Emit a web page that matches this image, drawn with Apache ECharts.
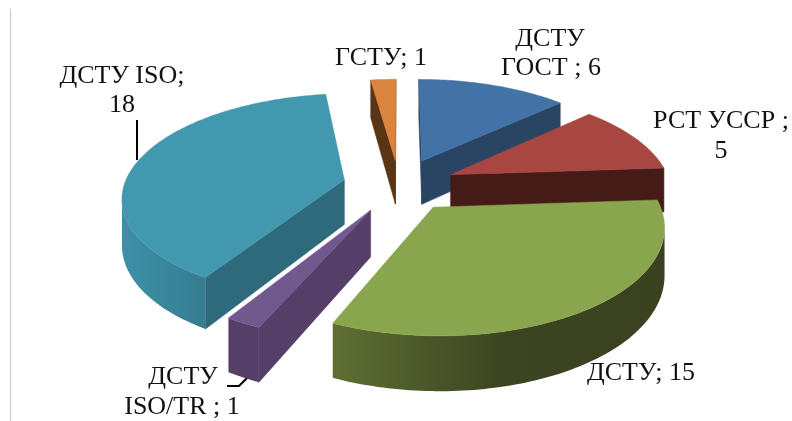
<!DOCTYPE html>
<html>
<head>
<meta charset="utf-8">
<style>
html, body { margin: 0; padding: 0; background: #fff; }
#main { width: 792px; height: 421px; }
</style>
<script src="https://cdn.jsdelivr.net/npm/echarts@6/dist/echarts.min.js"></script>
</head>
<body>
<div id="main"></div>
<script>
// clockwise from 12 o'clock
const categories = ["ДСТУ ГОСТ", "РСТ УССР", "ДСТУ", "ДСТУ ISO/TR", "ДСТУ ISO", "ГСТУ"]
const values = [6, 5, 15, 1, 18, 1]

// how far each slice is pulled out, in pie radii
const explodes = [0.27, 0.26, 0.26, 0.27, 0.256, 0.25]

// top face, radial wall, arc wall from its right end to its left end
const colors = [
	["#4372a6", "#2a4464", ["#2a4464", "#2a4464", "#2a4464"]],
	["#a84642", "#451b17", ["#451b17", "#451b17", "#451b17"]],
	["#89a54e", "#39411f", ["#39411f", "#3c4521", "#5f6f34"]],
	["#71588f", "#553f69", ["#553f69", "#553f69", "#553f69"]],
	["#4198af", "#2e6a7c", ["#347c90", "#39879c", "#3f8fa8"]],
	["#db843d", "#5a3515", ["#5a3515", "#5a3515", "#5a3515"]]
]

// label text and centre of each line
const labels = [
	[["ДСТУ", 550, 39], ["ГОСТ ; 6", 551, 68]],
	[["РСТ УССР ;", 721, 121], ["5", 721, 151]],
	[["ДСТУ; 15", 641, 373]],
	[["ДСТУ", 183, 377], ["ISO/TR ; 1", 182, 407]],
	[["ДСТУ ISO;", 122, 76], ["18", 122, 105]],
	[["ГСТУ; 1", 381, 58]]
]

const view = { cx: 399, cy: 185, rx: 220, ry: 101, persp: 0.155, depth: 45 }
const total = values.reduce((a, b) => a + b, 0)

const project = (u, v) => {
	const s = 1 / (1 + view.persp * v)
	return [view.cx + view.rx * u * s, view.cy - view.ry * v * s, s]
}
const flat = (p) => p.slice(0, 2)
const lower = (p) => [p[0], p[1] + view.depth * p[2]]

const quad = (a, b, fill, z2) => ({
	type: "polygon",
	z2,
	shape: { points: [flat(a), flat(b), lower(b), lower(a)] },
	style: { fill, stroke: fill, lineWidth: 0.6 }
})

const renderSlice = (params, api) => {
	const i = params.dataIndex
	const before = values.slice(0, i).reduce((a, b) => a + b, 0)
	const a0 = (before / total) * Math.PI * 2
	const a1 = ((before + api.value(0)) / total) * Math.PI * 2
	const mid = (a0 + a1) / 2
	const ou = explodes[i] * Math.sin(mid)
	const ov = explodes[i] * Math.cos(mid)
	const pal = colors[i]
	// back slices go first
	const zBase = Math.round((1 - Math.cos(mid)) * 100)

	const apex = project(ou, ov)
	const steps = Math.max(4, Math.ceil((a1 - a0) / 0.02))
	const rim = []
	for (let k = 0; k <= steps; k++) {
		const t = a0 + ((a1 - a0) * k) / steps
		rim.push(project(ou + Math.sin(t), ov + Math.cos(t)))
	}

	const children = []
	// a wall shows only where the clockwise outline runs to the left
	if (rim[0][0] < apex[0]) children.push(quad(apex, rim[0], pal[1], zBase))
	if (apex[0] < rim[steps][0]) children.push(quad(rim[steps], apex, pal[1], zBase))
	const front = rim.filter((p, k) => (k < steps && rim[k + 1][0] < p[0]) || (k > 0 && p[0] < rim[k - 1][0]))
	if (front.length > 1) {
		const xr = front[0][0]
		const xl = front[front.length - 1][0]
		children.push({
			type: "polygon",
			z2: zBase + 1,
			shape: { points: front.map(flat).concat(front.map(lower).reverse()) },
			style: {
				fill: new echarts.graphic.LinearGradient(xr, 0, xl, 0, [
					{ offset: 0, color: pal[2][0] },
					{ offset: 0.5, color: pal[2][1] },
					{ offset: 1, color: pal[2][2] }
				], true)
			}
		})
	}
	children.push({
		type: "polygon",
		z2: zBase + 2,
		shape: { points: [flat(apex)].concat(rim.map(flat)) },
		style: { fill: pal[0], stroke: pal[0], lineWidth: 0.5 }
	})
	labels[i].forEach((l) => {
		children.push({
			type: "text",
			z2: 500,
			style: {
				text: l[0],
				x: l[1],
				y: l[2],
				align: "center",
				verticalAlign: "middle",
				fill: "#111",
				font: "26px 'Liberation Serif'"
			}
		})
	})
	return { type: "group", children }
}

const chart = echarts.init(document.getElementById("main"))
chart.setOption({
	backgroundColor: "#fff",
	animation: false,
	series: [
		{
			type: "custom",
			coordinateSystem: "none",
			silent: true,
			renderItem: renderSlice,
			data: categories.map((name, i) => ({ name, value: [values[i]] }))
		}
	],
	graphic: [
		{ type: "line", shape: { x1: 10.5, y1: 9, x2: 10.5, y2: 421 }, style: { stroke: "#c4c4c4", lineWidth: 1 } },
		{ type: "line", shape: { x1: 137, y1: 120, x2: 137, y2: 160 }, style: { stroke: "#000", lineWidth: 2 } },
		{ type: "polyline", shape: { points: [[227, 386], [239, 386], [248, 377]] }, style: { stroke: "#000", lineWidth: 2, fill: null } }
	]
})
</script>
</body>
</html>
